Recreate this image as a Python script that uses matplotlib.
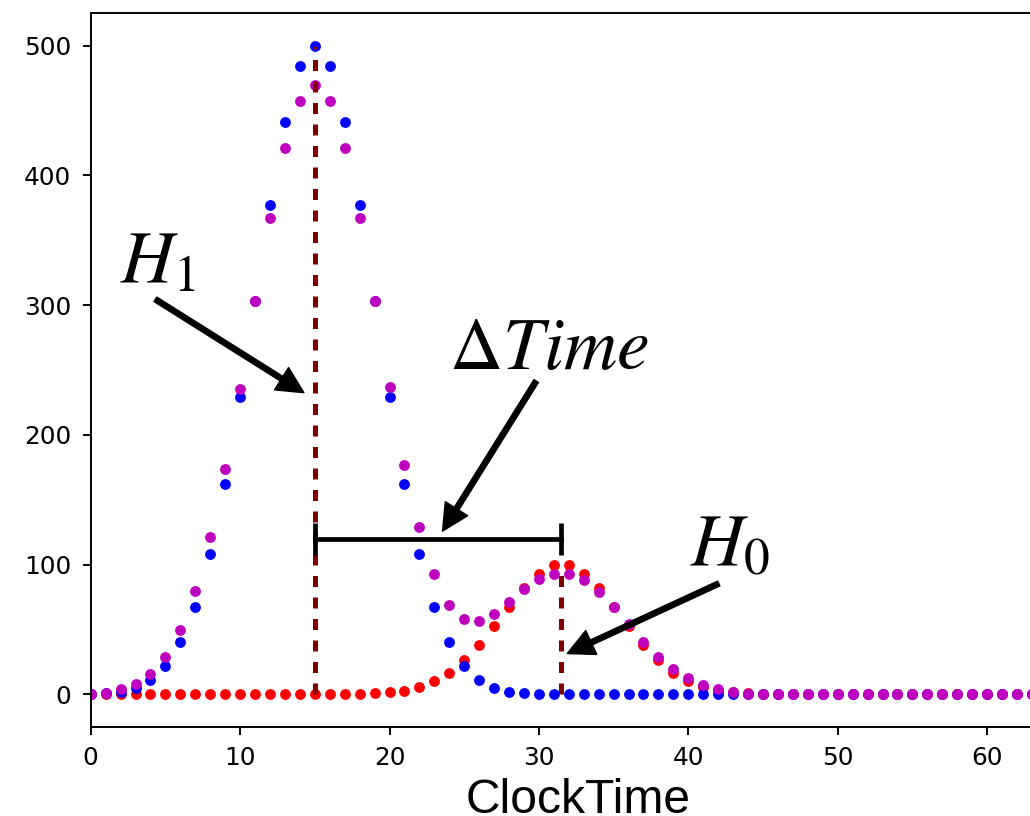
import matplotlib
matplotlib.use('Agg')
import matplotlib.pyplot as plt
import numpy as np

plt.rcParams['mathtext.fontset'] = 'stix'

# clock time samples
clock_time = np.arange(0, 65)

# H1 signal (blue)
h1_counts = [0, 1, 2, 5, 11, 22, 40, 67, 108, 162, 229, 303, 377, 441, 484,
             500, 484, 441, 377, 303, 229, 162, 108, 67, 40, 22, 11, 5, 2, 1] + [0] * 35

# H0 signal (red)
h0_counts = [0] * 18 + [0.3, 0.7, 1.4, 2.9, 5.7, 10, 16.7, 26.2, 38.3, 52.5, 67.4, 82.3,
                        93.1, 99.5, 99.5, 93.1, 82.3, 67.4, 52.5, 38.3, 26.2, 16.7, 10,
                        5.7, 2.9, 1.4, 0.7, 0.3] + [0] * 19

# observed mixture (magenta)
mix_counts = [0, 1, 3.9, 8.2, 16, 28.8, 49.4, 79.5, 120.9, 173.6, 235.6, 303, 367,
              421.5, 457.5, 470, 457.5, 421.5, 367, 303, 237, 177, 128.6, 92.4, 69.2,
              58.3, 56.6, 62.2, 71.2, 80.8, 89, 93.1, 93.1, 88, 78.7, 67.4, 54.3, 40.4,
              28.8, 19.5, 12.3, 7.2, 3.9, 1.8, 0.5] + [0] * 20

# peak markers
h1_time, h1_peak = 15, 500
h0_time, h0_peak = 31.5, 100
delta_level = 120

fig = plt.figure(figsize=(10.3, 8.16), dpi=100)
ax = fig.add_axes([90.7 / 1030, 1 - 726.7 / 816, 1 - 90.7 / 1030, (726.7 - 13.3) / 816])

ax.plot(clock_time, h0_counts, 'o', color='r', ms=7.8, mew=0)
ax.plot(clock_time, h1_counts, 'o', color='b', ms=7.8, mew=0)
ax.plot(clock_time, mix_counts, 'o', color='m', ms=7.8, mew=0)

# dashed peak lines
ax.plot([h1_time, h1_time], [0, h1_peak], color='#800000', lw=3.6, dashes=[2.2, 2.1])
ax.plot([h0_time, h0_time], [0, h0_peak], color='#800000', lw=3.6, dashes=[2.2, 2.1])

# delta time bar
ax.plot([h1_time, h0_time], [delta_level, delta_level], color='k', lw=3.4,
        marker='|', ms=23, mew=3.4)

arrow_kw = dict(facecolor='black', edgecolor='black', width=3.8, headwidth=19,
                headlength=19, shrink=0)
ax.annotate('', xy=(14.27, 232.5), xytext=(4.33, 304.5), arrowprops=arrow_kw)
ax.annotate('', xy=(23.55, 125.8), xytext=(29.82, 241.5), arrowprops=arrow_kw)
ax.annotate('', xy=(31.9, 31.4), xytext=(42.04, 85.4), arrowprops=arrow_kw)

ax.text(1.95, 318, r'$H_1$', fontsize=53, ha='left', va='baseline')
ax.text(23.95, 250.8, r'$\Delta Time$', fontsize=53, ha='left', va='baseline')
ax.text(40.1, 99, r'$H_0$', fontsize=53, ha='left', va='baseline')

ax.set_xlim(0, 62.87)
ax.set_ylim(-25, 525)
ax.set_xticks(range(0, 61, 10))
ax.set_yticks(range(0, 501, 100))
ax.spines['right'].set_visible(False)
for s in ['left', 'bottom', 'top']:
    ax.spines[s].set_linewidth(1.4)
ax.tick_params(labelsize=17.8, length=6, width=1.4, pad=8)

fig.text(578.5 / 1030, 0.004, 'ClockTime', fontsize=34.6, family='Liberation Sans',
         ha='center', va='baseline')

fig.savefig('out.png', dpi=100)
